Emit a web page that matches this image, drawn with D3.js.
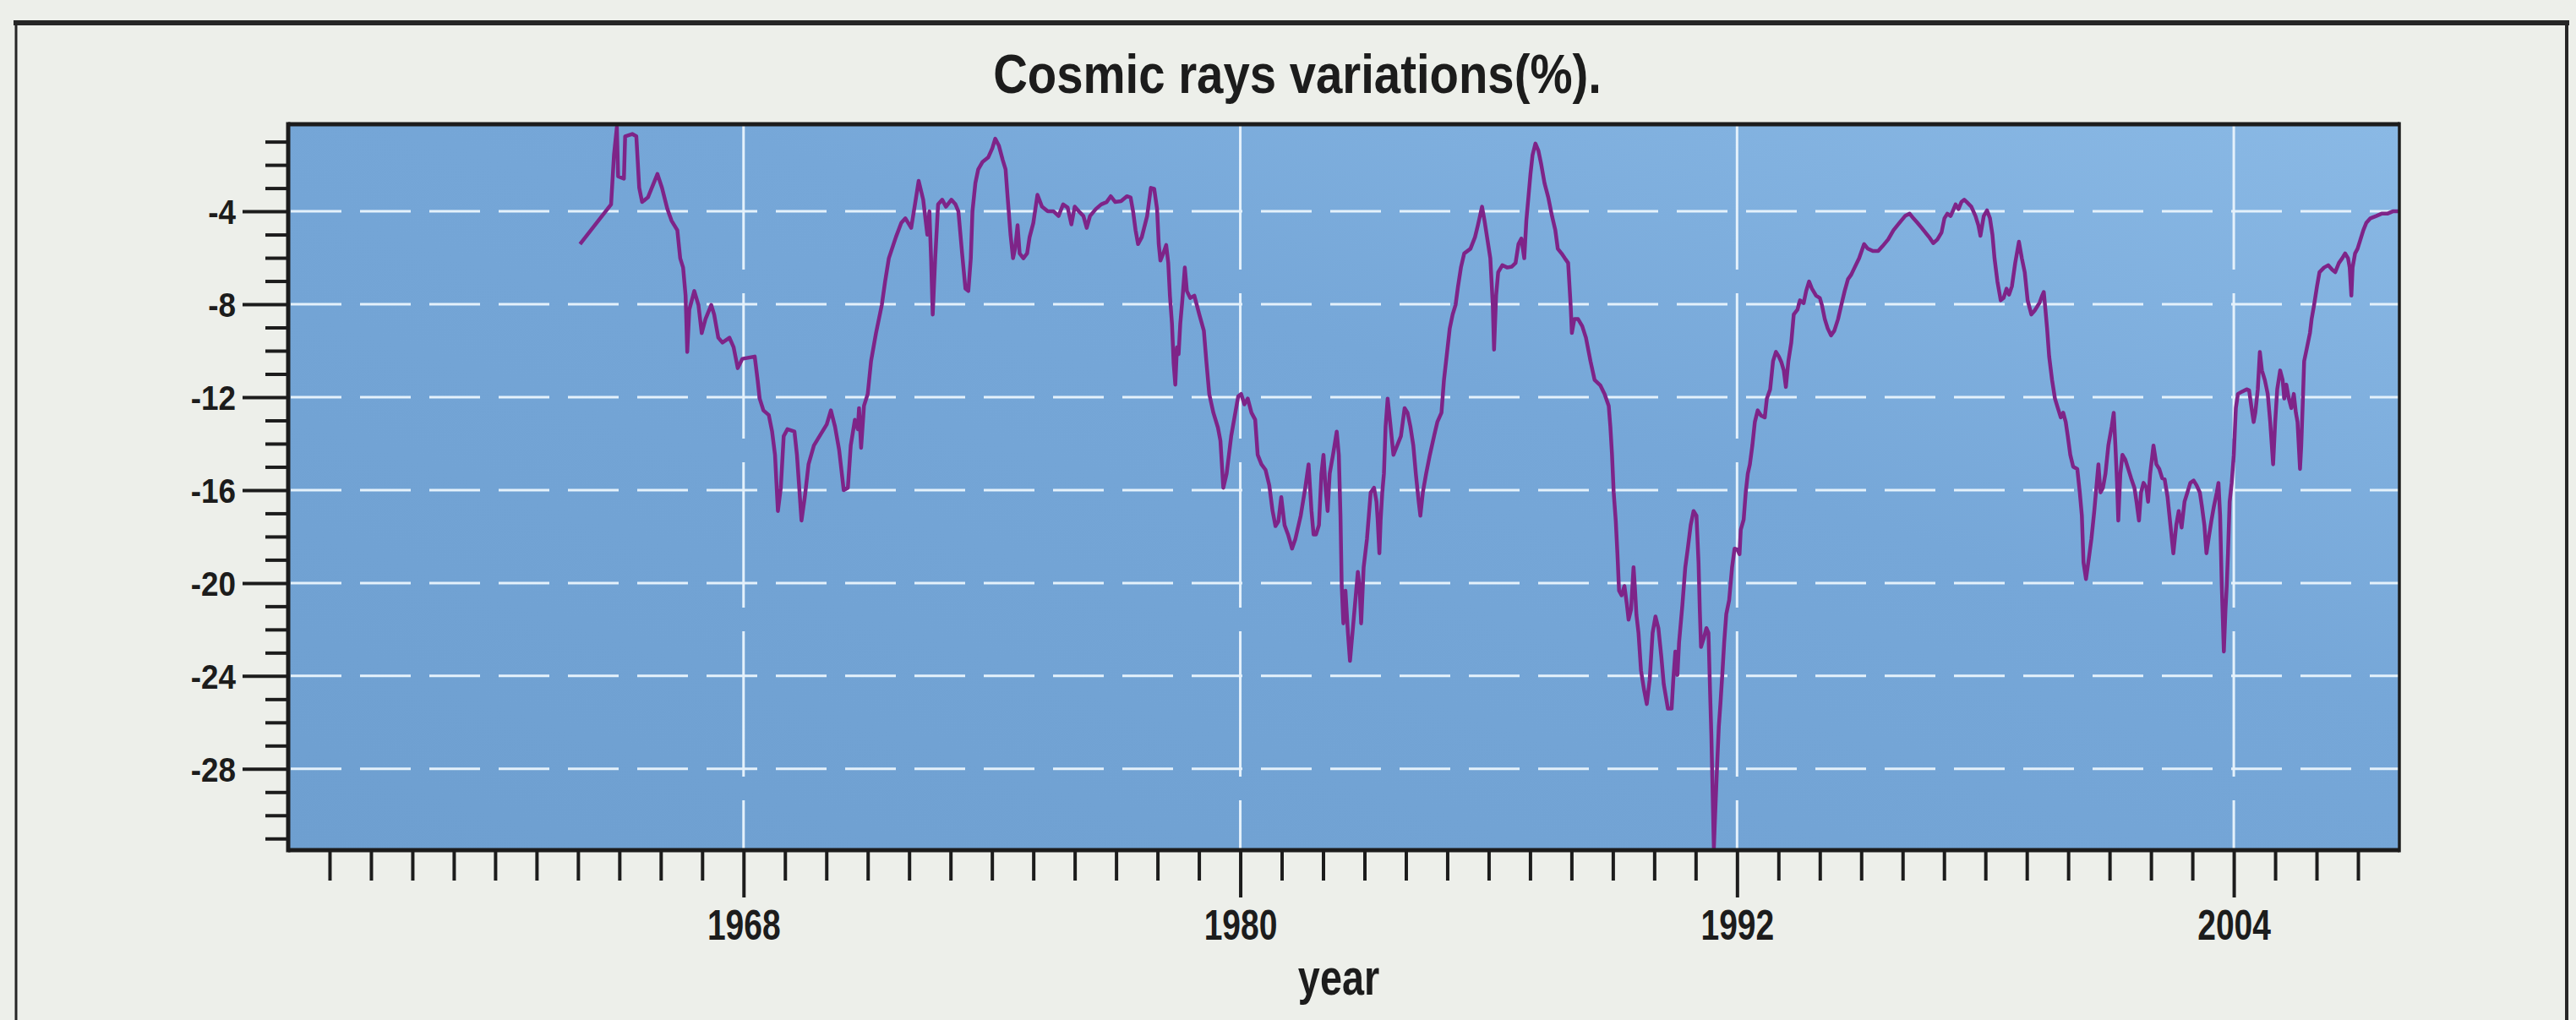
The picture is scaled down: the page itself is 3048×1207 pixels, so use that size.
<!DOCTYPE html>
<html>
<head>
<meta charset="utf-8">
<script src="https://cdn.jsdelivr.net/npm/d3@7"></script>
<style>
  html, body { margin: 0; padding: 0; background: #edefea; }
  svg { display: block; }
  text { font-family: "Liberation Sans", Arial, sans-serif; font-weight: bold; fill: #1c1c1c; }
</style>
</head>
<body>
<svg id="chart" width="3048" height="1207"></svg>
<script>
// ---- chart text and axis ticks ----
const chartTitle = "Cosmic rays variations(%).";
const xTitle = "year";
const xMajorTicks = [1968, 1980, 1992, 2004];
const yMajorTicks = [-4, -8, -12, -16, -20, -24, -28];
const yearRange = [1957, 2008];
const valueRange = [-31.5, -0.25];

// ---- monthly cosmic-ray variation, [year, %] ----
const cycle20 = [
  [1964.05,-5.41],[1964.80,-3.70],[1964.87,-1.58],[1964.94,-0.37],[1964.97,-2.49],[1965.11,-2.59],
  [1965.14,-0.77],[1965.31,-0.67],[1965.41,-0.77],[1965.48,-2.99],[1965.55,-3.60],[1965.69,-3.40],
  [1965.92,-2.39],[1966.03,-2.99],[1966.16,-3.90],[1966.26,-4.40],[1966.40,-4.81],[1966.47,-6.02],
  [1966.54,-6.42],[1966.60,-7.63],[1966.64,-10.05],[1966.69,-8.23],[1966.81,-7.43],[1966.91,-8.03],
  [1966.99,-9.24],[1967.08,-8.64],[1967.22,-8.03],[1967.29,-8.44],[1967.39,-9.44],[1967.49,-9.65],
  [1967.66,-9.44],[1967.76,-9.85],[1967.86,-10.75],[1967.97,-10.35],[1968.27,-10.25],[1968.34,-11.26],
  [1968.39,-12.06],[1968.48,-12.57],[1968.61,-12.77],[1968.69,-13.48],[1968.76,-14.48],[1968.83,-16.90],
  [1968.90,-15.90],[1968.97,-13.68],[1969.06,-13.38],[1969.23,-13.48],[1969.29,-14.48],[1969.40,-17.31],
  [1969.48,-16.30],[1969.57,-14.89],[1969.70,-14.08],[1969.87,-13.58],[1970.01,-13.17],[1970.11,-12.57],
  [1970.21,-13.27],[1970.31,-14.28],[1970.42,-16.00],[1970.52,-15.90],[1970.59,-14.08],[1970.69,-12.97],
  [1970.76,-13.38],[1970.79,-12.47],[1970.84,-14.18],[1970.91,-12.37],[1971.00,-11.86],[1971.08,-10.45],
  [1971.20,-9.24],[1971.34,-8.03],[1971.42,-7.02],[1971.51,-6.02],[1971.68,-5.11],[1971.81,-4.50],
  [1971.91,-4.30],[1972.05,-4.71],[1972.15,-3.60],[1972.23,-2.69],[1972.34,-3.50],[1972.44,-5.01],
  [1972.49,-4.00],[1972.53,-6.02],[1972.57,-8.44],[1972.63,-6.02],[1972.70,-3.70],[1972.80,-3.50],
  [1972.89,-3.80],[1973.02,-3.50],[1973.12,-3.70],[1973.19,-4.00],[1973.28,-5.81],[1973.36,-7.33],
  [1973.43,-7.43],[1973.49,-6.02],[1973.53,-4.00],[1973.60,-2.79],[1973.67,-2.19],[1973.77,-1.88],
  [1973.91,-1.68],[1974.01,-1.28],[1974.08,-0.87],[1974.17,-1.18],[1974.26,-1.78],[1974.33,-2.19],
  [1974.38,-3.40],[1974.45,-5.01],[1974.51,-6.02],[1974.56,-5.61],[1974.62,-4.60],[1974.67,-5.81],
  [1974.76,-6.02],[1974.85,-5.81],[1974.91,-5.11],[1975.00,-4.50],[1975.10,-3.29],[1975.21,-3.80],
  [1975.35,-4.00],[1975.49,-4.00],[1975.61,-4.20],[1975.72,-3.70],[1975.83,-3.84],[1975.92,-4.56],
  [1976.00,-3.80],[1976.10,-4.00],[1976.21,-4.20],[1976.29,-4.71],[1976.37,-4.20],[1976.51,-3.90]
];
const cycle21 = [
  [1976.64,-3.70],[1976.77,-3.60],[1976.87,-3.35],[1976.98,-3.60],[1977.12,-3.56],[1977.26,-3.35],
  [1977.35,-3.40],[1977.41,-4.00],[1977.47,-4.81],[1977.53,-5.41],[1977.62,-5.11],[1977.75,-4.20],
  [1977.84,-2.99],[1977.92,-3.03],[1977.99,-3.90],[1978.03,-5.41],[1978.07,-6.12],[1978.14,-5.81],
  [1978.21,-5.45],[1978.26,-6.22],[1978.30,-7.63],[1978.35,-8.84],[1978.39,-10.55],[1978.43,-11.46],
  [1978.47,-9.85],[1978.51,-10.15],[1978.55,-8.84],[1978.60,-7.83],[1978.66,-6.42],[1978.71,-7.43],
  [1978.79,-7.73],[1978.89,-7.63],[1979.01,-8.44],[1979.12,-9.14],[1979.18,-10.45],[1979.25,-11.86],
  [1979.35,-12.67],[1979.46,-13.31],[1979.52,-13.88],[1979.59,-15.90],[1979.67,-15.29],[1979.78,-13.68],
  [1979.86,-12.87],[1979.95,-11.96],[1980.02,-11.86],[1980.10,-12.31],[1980.18,-12.06],[1980.27,-12.67],
  [1980.36,-12.97],[1980.42,-14.48],[1980.51,-14.89],[1980.61,-15.13],[1980.70,-15.79],[1980.78,-16.90],
  [1980.85,-17.55],[1980.92,-17.35],[1980.99,-16.30],[1981.07,-17.51],[1981.16,-17.95],[1981.25,-18.52],
  [1981.33,-18.11],[1981.46,-17.10],[1981.57,-15.90],[1981.65,-14.89],[1981.72,-16.90],[1981.77,-17.91],
  [1981.83,-17.91],[1981.90,-17.51],[1981.96,-15.29],[1982.01,-14.48],[1982.06,-15.90],[1982.11,-16.90],
  [1982.16,-15.29],[1982.24,-14.48],[1982.33,-13.48],[1982.38,-14.48],[1982.42,-17.10],[1982.45,-20.13],
  [1982.49,-21.74],[1982.54,-20.33],[1982.60,-22.15],[1982.65,-23.35],[1982.71,-22.15],[1982.77,-20.94],
  [1982.84,-19.52],[1982.88,-20.13],[1982.92,-21.74],[1982.98,-19.32],[1983.06,-18.11],[1983.15,-16.10],
  [1983.23,-15.90],[1983.29,-16.50],[1983.32,-17.31],[1983.36,-18.72],[1983.39,-17.31],[1983.43,-16.10],
  [1983.47,-15.29],[1983.51,-13.27],[1983.56,-12.06],[1983.62,-13.07],[1983.70,-14.48],[1983.79,-14.08],
  [1983.88,-13.68],[1983.97,-12.47],[1984.04,-12.67],[1984.11,-13.27],[1984.18,-14.08],[1984.24,-15.29],
  [1984.31,-16.50],[1984.35,-17.10],[1984.41,-16.10],[1984.49,-15.29],[1984.58,-14.48],[1984.68,-13.68],
  [1984.76,-13.07],[1984.86,-12.67],[1984.92,-11.26],[1984.99,-10.15],[1985.06,-9.04],[1985.13,-8.44],
  [1985.20,-8.03],[1985.26,-7.23],[1985.33,-6.42],[1985.41,-5.81],[1985.56,-5.61],[1985.67,-5.11],
  [1985.74,-4.60],[1985.84,-3.80],[1985.90,-4.40],[1985.97,-5.21],[1986.04,-6.02],[1986.10,-8.03],
  [1986.13,-9.95],[1986.18,-7.63],[1986.23,-6.62],[1986.33,-6.32],[1986.45,-6.42],[1986.56,-6.38],
  [1986.65,-6.22],[1986.72,-5.41],[1986.79,-5.17],[1986.86,-6.02],[1986.91,-4.40],[1986.96,-3.40]
];
const cycle22 = [
  [1987.01,-2.39],[1987.06,-1.58],[1987.13,-1.08],[1987.20,-1.38],[1987.27,-1.98],[1987.35,-2.79],
  [1987.44,-3.40],[1987.53,-4.20],[1987.61,-4.81],[1987.67,-5.61],[1987.76,-5.81],[1987.84,-6.02],
  [1987.92,-6.22],[1987.98,-8.03],[1988.01,-9.24],[1988.07,-8.64],[1988.16,-8.64],[1988.26,-8.94],
  [1988.35,-9.44],[1988.46,-10.45],[1988.56,-11.26],[1988.70,-11.50],[1988.80,-11.86],[1988.90,-12.37],
  [1988.94,-13.27],[1988.98,-14.48],[1989.02,-16.10],[1989.07,-17.31],[1989.11,-18.72],[1989.15,-20.33],
  [1989.21,-20.53],[1989.28,-20.13],[1989.34,-20.94],[1989.38,-21.58],[1989.44,-21.14],[1989.50,-19.32],
  [1989.53,-20.13],[1989.57,-21.38],[1989.62,-22.15],[1989.68,-23.76],[1989.75,-24.56],[1989.82,-25.21],
  [1989.89,-24.16],[1989.96,-22.15],[1990.03,-21.44],[1990.10,-21.94],[1990.17,-23.15],[1990.23,-24.36],
  [1990.33,-25.41],[1990.42,-25.41],[1990.46,-24.16],[1990.51,-22.95],[1990.56,-23.96],[1990.60,-22.55],
  [1990.68,-20.94],[1990.75,-19.32],[1990.81,-18.52],[1990.88,-17.51],[1990.95,-16.90],[1991.02,-17.10],
  [1991.07,-19.12],[1991.10,-21.14],[1991.13,-22.75],[1991.20,-22.35],[1991.26,-21.94],[1991.31,-22.15],
  [1991.35,-24.77],[1991.38,-26.58],[1991.41,-29.00],[1991.44,-31.42],[1991.47,-30.01],[1991.52,-27.79],
  [1991.56,-26.18],[1991.60,-25.17],[1991.65,-23.76],[1991.69,-22.55],[1991.74,-21.34],[1991.81,-20.73],
  [1991.88,-19.32],[1991.94,-18.52],[1992.01,-18.56],[1992.06,-18.76],[1992.09,-17.71],[1992.16,-17.27],
  [1992.21,-16.10],[1992.26,-15.29],[1992.31,-14.89],[1992.37,-14.08],[1992.43,-13.07],[1992.50,-12.57],
  [1992.58,-12.79],[1992.67,-12.87],[1992.72,-12.06],[1992.80,-11.66],[1992.87,-10.45],[1992.94,-10.05],
  [1993.01,-10.25],[1993.07,-10.49],[1993.13,-10.85],[1993.18,-11.56],[1993.24,-10.45],[1993.31,-9.65],
  [1993.37,-8.44],[1993.46,-8.23],[1993.52,-7.83],[1993.61,-7.95],[1993.67,-7.43],[1993.74,-7.02],
  [1993.81,-7.33],[1993.91,-7.63],[1994.00,-7.73],[1994.05,-8.03],[1994.12,-8.64],[1994.19,-9.04],
  [1994.27,-9.34],[1994.35,-9.14],[1994.44,-8.64],[1994.52,-8.03],[1994.60,-7.43],[1994.68,-6.92],
  [1994.76,-6.72],[1994.84,-6.42],[1994.95,-6.02],[1995.07,-5.41],[1995.16,-5.61],[1995.28,-5.71],
  [1995.41,-5.71],[1995.51,-5.51],[1995.65,-5.21],[1995.78,-4.81],[1995.92,-4.50],[1996.06,-4.20],
  [1996.17,-4.10],[1996.26,-4.30],[1996.36,-4.50],[1996.46,-4.71],[1996.55,-4.91],[1996.64,-5.11],
  [1996.74,-5.37],[1996.84,-5.21],[1996.94,-4.91]
];
const cycle23 = [
  [1997.01,-4.30],[1997.08,-4.10],[1997.16,-4.20],[1997.21,-4.00],[1997.28,-3.70],[1997.35,-3.90],
  [1997.42,-3.60],[1997.49,-3.50],[1997.55,-3.60],[1997.66,-3.80],[1997.76,-4.20],[1997.83,-4.60],
  [1997.88,-5.05],[1997.96,-4.20],[1998.04,-3.96],[1998.11,-4.30],[1998.17,-5.01],[1998.22,-6.02],
  [1998.29,-7.02],[1998.37,-7.83],[1998.44,-7.73],[1998.51,-7.33],[1998.57,-7.59],[1998.64,-7.23],
  [1998.72,-6.22],[1998.81,-5.31],[1998.88,-6.02],[1998.95,-6.62],[1999.02,-7.83],[1999.11,-8.44],
  [1999.19,-8.27],[1999.31,-7.93],[1999.37,-7.63],[1999.41,-7.47],[1999.45,-8.23],[1999.49,-9.04],
  [1999.54,-10.25],[1999.61,-11.26],[1999.68,-12.06],[1999.75,-12.47],[1999.82,-12.87],[1999.88,-12.67],
  [1999.94,-13.07],[1999.99,-13.68],[2000.05,-14.48],[2000.12,-14.99],[2000.22,-15.09],[2000.28,-16.10],
  [2000.33,-17.10],[2000.37,-19.12],[2000.43,-19.83],[2000.50,-18.92],[2000.56,-18.11],[2000.63,-16.90],
  [2000.69,-15.69],[2000.73,-14.89],[2000.78,-16.10],[2000.84,-15.90],[2000.90,-15.29],[2000.97,-14.08],
  [2001.05,-13.27],[2001.10,-12.67],[2001.14,-14.08],[2001.18,-15.69],[2001.21,-17.31],[2001.26,-15.29],
  [2001.31,-14.48],[2001.38,-14.69],[2001.45,-15.09],[2001.52,-15.49],[2001.60,-15.90],[2001.65,-16.50],
  [2001.71,-17.31],[2001.76,-16.10],[2001.82,-15.69],[2001.89,-15.90],[2001.93,-16.50],[2001.98,-15.29],
  [2002.06,-14.08],[2002.13,-14.89],[2002.20,-15.09],[2002.27,-15.49],[2002.33,-15.53],[2002.40,-16.30],
  [2002.47,-17.51],[2002.54,-18.72],[2002.61,-17.51],[2002.67,-16.90],[2002.74,-17.61],[2002.81,-16.50],
  [2002.88,-16.10],[2002.95,-15.69],[2003.03,-15.59],[2003.10,-15.79],[2003.18,-16.10],[2003.23,-16.70],
  [2003.29,-17.51],[2003.34,-18.72],[2003.39,-18.11],[2003.46,-17.31],[2003.52,-16.70],[2003.59,-16.10],
  [2003.63,-15.69],[2003.67,-17.10],[2003.71,-20.13],[2003.76,-22.95],[2003.80,-21.14],[2003.83,-20.13],
  [2003.86,-18.72],[2003.90,-16.50],[2003.95,-15.69],[2004.00,-14.48],[2004.05,-12.47],[2004.10,-11.86],
  [2004.20,-11.76],[2004.31,-11.66],[2004.37,-11.70],[2004.43,-12.47],[2004.48,-13.07],[2004.52,-12.67],
  [2004.58,-11.66],[2004.63,-10.05],[2004.68,-10.85],[2004.75,-11.26],[2004.82,-11.86],[2004.88,-13.07],
  [2004.95,-14.89],[2005.00,-13.07],[2005.05,-11.66],[2005.12,-10.85],[2005.18,-11.26],[2005.22,-12.06],
  [2005.27,-11.46],[2005.33,-12.06],[2005.39,-12.47],[2005.45,-11.86],[2005.50,-12.67],[2005.54,-13.07],
  [2005.60,-15.09],[2005.63,-14.08],[2005.67,-12.06],[2005.70,-10.45],[2005.77,-9.85],[2005.84,-9.24],
  [2005.88,-8.64],[2005.94,-8.03],[2006.01,-7.23],[2006.07,-6.62],[2006.18,-6.42],[2006.28,-6.32],
  [2006.38,-6.52],[2006.45,-6.62],[2006.54,-6.22],[2006.62,-6.02],[2006.69,-5.81],[2006.76,-6.02],
  [2006.80,-6.42],[2006.84,-7.63],[2006.87,-6.42],[2006.93,-5.81],[2006.99,-5.61],[2007.06,-5.21],
  [2007.13,-4.81],[2007.20,-4.50],[2007.30,-4.30],[2007.44,-4.20],[2007.57,-4.10],[2007.71,-4.10],
  [2007.84,-4.00],[2008.00,-4.00]
];

const series = [...cycle20, ...cycle21, ...cycle22, ...cycle23];

// ---- layout ----
const svg = d3.select("#chart");
const plot = { left: 341, right: 2839, top: 147, bottom: 1006 };
const ink = "#1c1c1c";
const fontStack = "\"Liberation Sans\", Arial, sans-serif";

const x = d3.scaleLinear().domain(yearRange).range([plot.left, plot.right]);
const y = d3.scaleLinear().domain(valueRange).range([plot.bottom, plot.top]);

// outer frame (bottom edge runs past the canvas)
const frame = svg.append("g").attr("fill", "none").attr("stroke", "#262626");
frame.append("line").attr("x1", 16).attr("x2", 3040).attr("y1", 27).attr("y2", 27).attr("stroke-width", 6);
frame.append("line").attr("x1", 19).attr("x2", 19).attr("y1", 27).attr("y2", 1207).attr("stroke-width", 3);
frame.append("line").attr("x1", 3037).attr("x2", 3037).attr("y1", 27).attr("y2", 1207).attr("stroke-width", 4);

// title
svg.append("text")
  .attr("transform", "translate(1535,110) scale(0.88,1)")
  .attr("text-anchor", "middle")
  .attr("font-size", 64)
  .text(chartTitle);

// plot background
const defs = svg.append("defs");
const grad = defs.append("linearGradient").attr("id", "plotFill")
  .attr("x1", "0%").attr("y1", "100%").attr("x2", "100%").attr("y2", "0%");
grad.append("stop").attr("offset", "0%").attr("stop-color", "#6e9fd0");
grad.append("stop").attr("offset", "60%").attr("stop-color", "#76a7d8");
grad.append("stop").attr("offset", "100%").attr("stop-color", "#8ab9e5");
defs.append("clipPath").attr("id", "plotClip")
  .append("rect")
  .attr("x", plot.left).attr("y", plot.top)
  .attr("width", plot.right - plot.left).attr("height", plot.bottom - plot.top);

svg.append("rect")
  .attr("x", plot.left).attr("y", plot.top)
  .attr("width", plot.right - plot.left).attr("height", plot.bottom - plot.top)
  .attr("fill", "url(#plotFill)");

// dashed white grid
const grid = svg.append("g").attr("clip-path", "url(#plotClip)")
  .attr("stroke", "#e4f1fb").attr("stroke-width", 3).attr("fill", "none");
grid.selectAll("line.h").data(yMajorTicks).join("line").attr("class", "h")
  .attr("x1", plot.left + 3).attr("x2", plot.right)
  .attr("y1", d => y(d)).attr("y2", d => y(d))
  .attr("stroke-dasharray", "60 22");
grid.selectAll("line.v").data(xMajorTicks).join("line").attr("class", "v")
  .attr("x1", d => x(d)).attr("x2", d => x(d))
  .attr("y1", plot.top).attr("y2", plot.bottom)
  .attr("stroke-dasharray", "172 28");

// data line
const line = d3.line().x(d => x(d[0])).y(d => y(d[1]));
svg.append("path")
  .datum(series)
  .attr("clip-path", "url(#plotClip)")
  .attr("fill", "none")
  .attr("stroke", "#7e2488")
  .attr("stroke-width", 4.5)
  .attr("stroke-linejoin", "round")
  .attr("d", line);

// plot frame: heavy on three sides, lighter on the right
const border = svg.append("g").attr("stroke", ink).attr("fill", "none");
border.append("line").attr("x1", plot.left).attr("x2", plot.right).attr("y1", plot.top).attr("y2", plot.top).attr("stroke-width", 5);
border.append("line").attr("x1", plot.left).attr("x2", plot.right).attr("y1", plot.bottom).attr("y2", plot.bottom).attr("stroke-width", 5);
border.append("line").attr("x1", plot.left).attr("x2", plot.left).attr("y1", plot.top - 2.5).attr("y2", plot.bottom + 2.5).attr("stroke-width", 5);
border.append("line").attr("x1", plot.right).attr("x2", plot.right).attr("y1", plot.top - 2.5).attr("y2", plot.bottom + 2.5).attr("stroke-width", 3.5);

// axes
function styleAxis(g) {
  g.select(".domain").remove();
  g.selectAll(".tick line").attr("stroke", ink).attr("stroke-width", 4);
}
const plainNumber = d => String(d);

const yearMinor = d3.range(yearRange[0] + 1, yearRange[1]).filter(v => !xMajorTicks.includes(v));
svg.append("g").attr("transform", `translate(0,${plot.bottom})`)
  .call(d3.axisBottom(x).tickValues(yearMinor).tickSize(36).tickFormat(""))
  .call(styleAxis);

const xMajor = svg.append("g").attr("transform", `translate(0,${plot.bottom})`)
  .call(d3.axisBottom(x).tickValues(xMajorTicks).tickSize(56).tickFormat(plainNumber))
  .call(styleAxis);
xMajor.selectAll(".tick text")
  .attr("y", 106).attr("dy", 0)
  .attr("font-size", 50)
  .attr("fill", ink)
  .attr("transform", "scale(0.78,1)");

const valueMinor = d3.range(-31, 0).filter(v => !yMajorTicks.includes(v));
svg.append("g").attr("transform", `translate(${plot.left},0)`)
  .call(d3.axisLeft(y).tickValues(valueMinor).tickSize(27).tickFormat(""))
  .call(styleAxis);

const yMajor = svg.append("g").attr("transform", `translate(${plot.left},0)`)
  .call(d3.axisLeft(y).tickValues(yMajorTicks).tickSize(54).tickFormat(plainNumber))
  .call(styleAxis);
yMajor.selectAll(".tick text")
  .attr("x", -62)
  .attr("font-size", 41)
  .attr("fill", ink)
  .attr("dy", "0.36em")
  .attr("transform", "scale(0.9,1)")
  .attr("x", -62 / 0.9);

// x-axis title
svg.append("text")
  .attr("transform", "translate(1584,1177) scale(0.78,1)")
  .attr("text-anchor", "middle")
  .attr("font-size", 60)
  .text(xTitle);

// d3 axes set their own font; keep the bold sans used above
svg.selectAll("g.tick text").attr("font-family", fontStack).attr("font-weight", "bold");
</script>
</body>
</html>
